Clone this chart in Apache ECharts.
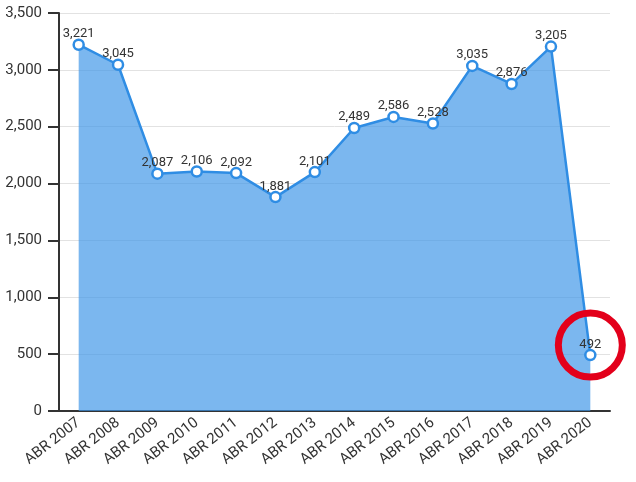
<!DOCTYPE html>
<html>
<head>
<meta charset="utf-8">
<script src="https://cdn.jsdelivr.net/npm/echarts@6/dist/echarts.min.js"></script>
<style>
  html, body { margin: 0; padding: 0; background: #fff; }
  #chart { width: 636px; height: 482px; }
</style>
</head>
<body>
<div id="chart"></div>
<script>
const years = ['ABR 2007', 'ABR 2008', 'ABR 2009', 'ABR 2010', 'ABR 2011', 'ABR 2012', 'ABR 2013',
  'ABR 2014', 'ABR 2015', 'ABR 2016', 'ABR 2017', 'ABR 2018', 'ABR 2019', 'ABR 2020'];
const values = [3221, 3045, 2087, 2106, 2092, 1881, 2101, 2489, 2586, 2528, 3035, 2876, 3205, 492];
// the point circled in red
const highlight = { name: 'ABR 2020', value: 492 };

const chart = echarts.init(document.getElementById('chart'));
chart.setOption({
  animation: false,
  textStyle: { fontFamily: 'Roboto' },
  grid: { left: 59, right: 26, top: 13, bottom: 71 },
  xAxis: {
    type: 'category',
    data: years,
    boundaryGap: true,
    axisLine: { lineStyle: { color: '#333', width: 2 } },
    axisTick: { alignWithLabel: true, length: 7, lineStyle: { color: '#333', width: 2 } },
    axisLabel: { rotate: 38, color: '#333', fontSize: 15, interval: 0, margin: 10 },
    splitLine: { show: false }
  },
  yAxis: {
    type: 'value',
    min: 0,
    max: 3500,
    interval: 500,
    axisLine: { show: true, lineStyle: { color: '#333', width: 2 } },
    axisTick: { show: true, length: 11, lineStyle: { color: '#333', width: 2 } },
    axisLabel: {
      color: '#333', fontSize: 15, margin: 17,
      formatter: (v) => v.toLocaleString('en-US')
    },
    splitLine: { lineStyle: { color: '#e2e2e2', width: 1 } }
  },
  series: [{
    type: 'line',
    data: values,
    symbol: 'circle',
    symbolSize: 10,
    itemStyle: { color: '#fff', borderColor: '#2f8de4', borderWidth: 2.5 },
    lineStyle: { color: '#2f8de4', width: 2.5 },
    areaStyle: { color: '#3d95e8', opacity: 0.68 },
    z: 1,
    label: {
      show: true,
      position: 'top',
      distance: -2,
      color: '#333',
      fontSize: 13,
      formatter: (p) => p.value.toLocaleString('en-US')
    },
    markPoint: {
      silent: true,
      symbol: 'circle',
      symbolSize: 64,
      symbolOffset: [0, -10],
      itemStyle: { color: 'rgba(0,0,0,0)', borderColor: '#e3001b', borderWidth: 7 },
      label: { show: false },
      data: [{ coord: [highlight.name, highlight.value] }]
    }
  }]
});
</script>
</body>
</html>
